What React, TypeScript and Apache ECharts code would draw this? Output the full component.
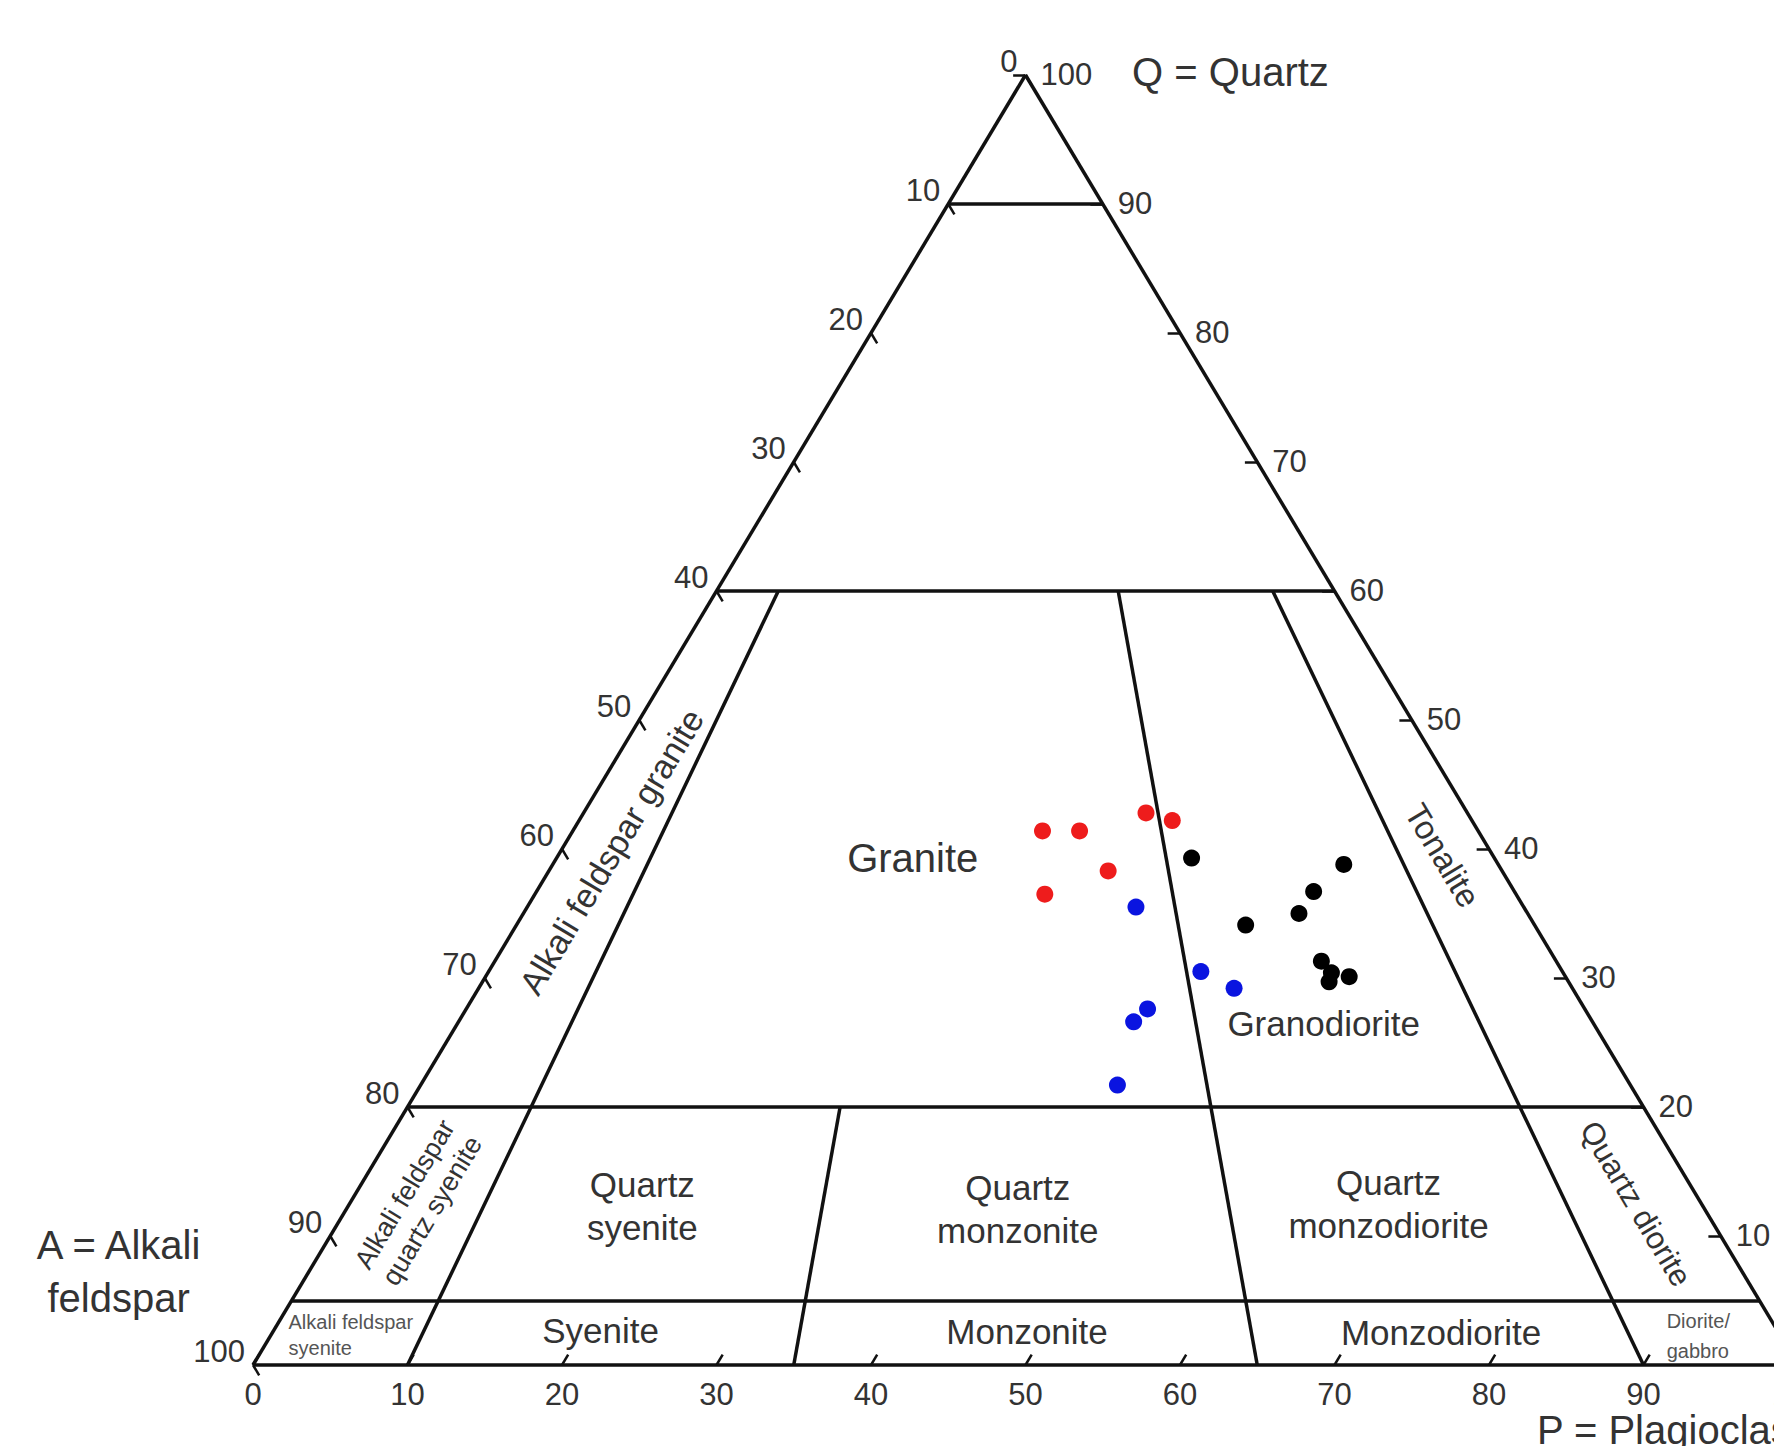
import React, { useEffect, useRef } from "react";
import * as echarts from "echarts";

// ---- Sample compositions (percent): Q = quartz, A = alkali feldspar, P = plagioclase
const redQ = [41.4, 41.4, 42.8, 42.2, 38.3, 36.5];
const redA = [28.2, 25.8, 20.8, 19.4, 25.5, 30.5];
const redP = [30.4, 32.8, 36.4, 38.4, 36.2, 33.0];

const blueQ = [35.5, 30.5, 29.2, 27.6, 26.6, 21.7];
const blueA = [25.1, 23.4, 21.9, 28.3, 29.7, 33.2];
const blueP = [39.4, 46.1, 48.9, 44.1, 43.7, 45.1];

const blackQ = [39.3, 38.8, 36.7, 35.0, 34.1, 31.3, 30.4, 29.7, 30.1];
const blackA = [19.6, 10.0, 13.0, 14.8, 18.7, 15.2, 15.0, 15.5, 14.0];
const blackP = [41.1, 51.2, 50.3, 50.2, 47.2, 53.5, 54.6, 54.8, 55.9];

// ---- QAP field boundaries
const quartzLevels = [90, 60, 20, 5]; // horizontal lines of constant Q
const radialRatios = [0.1, 0.35, 0.65, 0.9]; // P/(A+P)
const radialTopQ = [60, 20, 60, 60]; // Q where each radial boundary starts

// ---- Axis ticks
const tickValues = [0, 10, 20, 30, 40, 50, 60, 70, 80, 90, 100];
const tickLabels = ["0", "10", "20", "30", "40", "50", "60", "70", "80", "90", "100"];

const FONT = '"Liberation Sans", Arial, Helvetica, sans-serif';

function toXY(q: number, a: number, p: number): number[] {
  const s = q + a + p;
  return [((p + q / 2) / s) * 100, (q / s) * 100];
}

function radialPoint(r: number, q: number): number[] {
  return toXY(q, (100 - q) * (1 - r), (100 - q) * r);
}

type Note = {
  text: string;
  x: number;
  y: number;
  size: number;
  rot?: "left" | "right";
  align?: string;
  lh?: number;
  color?: string;
};

const notes: Note[] = [
  { text: "Granite", x: 42.7, y: 39.3, size: 40 },
  { text: "Granodiorite", x: 69.3, y: 26.5, size: 35 },
  { text: "Tonalite", x: 77.0, y: 39.5, size: 33, rot: "right" },
  { text: "Alkali feldspar granite", x: 23.2, y: 39.8, size: 34, rot: "left" },
  { text: "Quartz diorite", x: 89.5, y: 12.5, size: 31, rot: "right" },
  { text: "Alkali feldspar\nquartz syenite", x: 10.7, y: 12.6, size: 27, rot: "left", lh: 32 },
  { text: "Quartz\nsyenite", x: 25.2, y: 12.3, size: 35, lh: 43 },
  { text: "Quartz\nmonzonite", x: 49.5, y: 12.1, size: 35, lh: 43 },
  { text: "Quartz\nmonzodiorite", x: 73.5, y: 12.5, size: 35, lh: 43 },
  { text: "Syenite", x: 22.5, y: 2.7, size: 35 },
  { text: "Monzonite", x: 50.1, y: 2.6, size: 35 },
  { text: "Monzodiorite", x: 76.9, y: 2.5, size: 35 },
  { text: "Alkali feldspar\nsyenite", x: 2.3, y: 2.3, size: 20, align: "left", lh: 26, color: "#555" },
  { text: "Diorite/\ngabbro", x: 91.5, y: 2.25, size: 20, align: "left", lh: 30, color: "#555" },
  { text: "A = Alkali\nfeldspar", x: -8.7, y: 7.25, size: 40, lh: 53 },
  { text: "Q = Quartz", x: 56.9, y: 100.2, size: 40, align: "left" },
  { text: "P = Plagioclase", x: 83.1, y: -5.0, size: 40, align: "left" },
];

export default function App() {
  const ref = useRef<HTMLDivElement>(null);

  useEffect(() => {
    document.body.style.margin = "0";
    document.body.style.overflow = "hidden";
    const el = ref.current;
    if (!el) return;
    const chart = echarts.init(el, null, { renderer: "svg" });

    // boundary segments
    const segs: number[][][] = [];
    segs.push([toXY(0, 100, 0), toXY(100, 0, 0)]);
    segs.push([toXY(100, 0, 0), toXY(0, 0, 100)]);
    segs.push([toXY(0, 100, 0), toXY(0, 0, 100)]);
    quartzLevels.forEach((q) => segs.push([toXY(q, 100 - q, 0), toXY(q, 0, 100 - q)]));
    radialRatios.forEach((r, i) => segs.push([radialPoint(r, radialTopQ[i]), radialPoint(r, 0)]));

    // tick marks
    const d = 0.8;
    const ticks: number[][][] = [];
    tickValues.forEach((v) => {
      ticks.push([toXY(100 - v, v, 0), toXY(100 - v - d, v, d)]); // left (A)
      ticks.push([toXY(v, 0, 100 - v), toXY(v, d, 100 - v - d)]); // right (Q)
      ticks.push([toXY(0, 100 - v, v), toXY(d, 100 - v - d, v)]); // base (P)
    });

    const pts = (Q: number[], A: number[], P: number[]) => Q.map((q, i) => toXY(q, A[i], P[i]));

    chart.setOption({
      animation: false,
      backgroundColor: "#ffffff",
      grid: { left: 253, top: 75, width: 1545, height: 1290, show: false },
      xAxis: { type: "value", min: 0, max: 100, show: false },
      yAxis: { type: "value", min: 0, max: 100, show: false },
      series: [
        {
          type: "lines",
          coordinateSystem: "cartesian2d",
          silent: true,
          clip: false,
          z: 2,
          lineStyle: { color: "#111", width: 3.5, opacity: 1, curveness: 0 },
          data: segs.map((s) => ({ coords: s })),
        },
        {
          type: "lines",
          coordinateSystem: "cartesian2d",
          silent: true,
          clip: false,
          z: 2,
          lineStyle: { color: "#111", width: 2.5, opacity: 1, curveness: 0 },
          data: ticks.map((s) => ({ coords: s })),
        },
        {
          type: "scatter",
          name: "Red",
          z: 5,
          symbolSize: 17,
          itemStyle: { color: "#ee1c1c", opacity: 1 },
          data: pts(redQ, redA, redP),
        },
        {
          type: "scatter",
          name: "Blue",
          z: 5,
          symbolSize: 17,
          itemStyle: { color: "#0a14e0", opacity: 1 },
          data: pts(blueQ, blueA, blueP),
        },
        {
          type: "scatter",
          name: "Black",
          z: 5,
          symbolSize: 17,
          itemStyle: { color: "#000000", opacity: 1 },
          data: pts(blackQ, blackA, blackP),
        },
      ],
    });

    const px = (xy: number[]) => chart.convertToPixel({ gridIndex: 0 }, xy) as number[];
    const pA = px(toXY(0, 100, 0));
    const pQ = px(toXY(100, 0, 0));
    const pP = px(toXY(0, 0, 100));
    const leftAngle = Math.atan2(pA[1] - pQ[1], pQ[0] - pA[0]);
    const rightAngle = -Math.atan2(pP[1] - pQ[1], pP[0] - pQ[0]);

    const txt = (
      x: number,
      y: number,
      text: string,
      size: number,
      align: string,
      valign: string,
      rotation = 0,
      color = "#333",
      lh?: number
    ) => ({
      type: "text",
      x,
      y,
      rotation,
      silent: true,
      z: 10,
      style: {
        text,
        fontSize: size,
        fontFamily: FONT,
        fill: color,
        align,
        textAlign: align,
        verticalAlign: valign,
        textVerticalAlign: valign,
        lineHeight: lh,
      },
    });

    const graphics: any[] = [];
    tickValues.forEach((v, i) => {
      const l = px(toXY(100 - v, v, 0));
      graphics.push(txt(l[0] - 8, l[1] - 14, tickLabels[i], 31, "right", "middle"));
      const r = px(toXY(v, 0, 100 - v));
      graphics.push(txt(r[0] + 15, r[1] - 1, tickLabels[i], 31, "left", "middle"));
      const b = px(toXY(0, 100 - v, v));
      graphics.push(txt(b[0], b[1] + 29, tickLabels[i], 31, "center", "middle"));
    });

    notes.forEach((n) => {
      const p = px([n.x, n.y]);
      const rot = n.rot === "left" ? leftAngle : n.rot === "right" ? rightAngle : 0;
      graphics.push(
        txt(p[0], p[1], n.text, n.size, n.align || "center", "middle", rot, n.color || "#333", n.lh || n.size * 1.2)
      );
    });

    chart.setOption({ graphic: graphics });

    return () => {
      chart.dispose();
    };
  }, []);

  return (
    <div style={{ width: 1774, height: 1446, overflow: "hidden", background: "#fff" }}>
      <div ref={ref} style={{ width: 1840, height: 1446 }} />
    </div>
  );
}
